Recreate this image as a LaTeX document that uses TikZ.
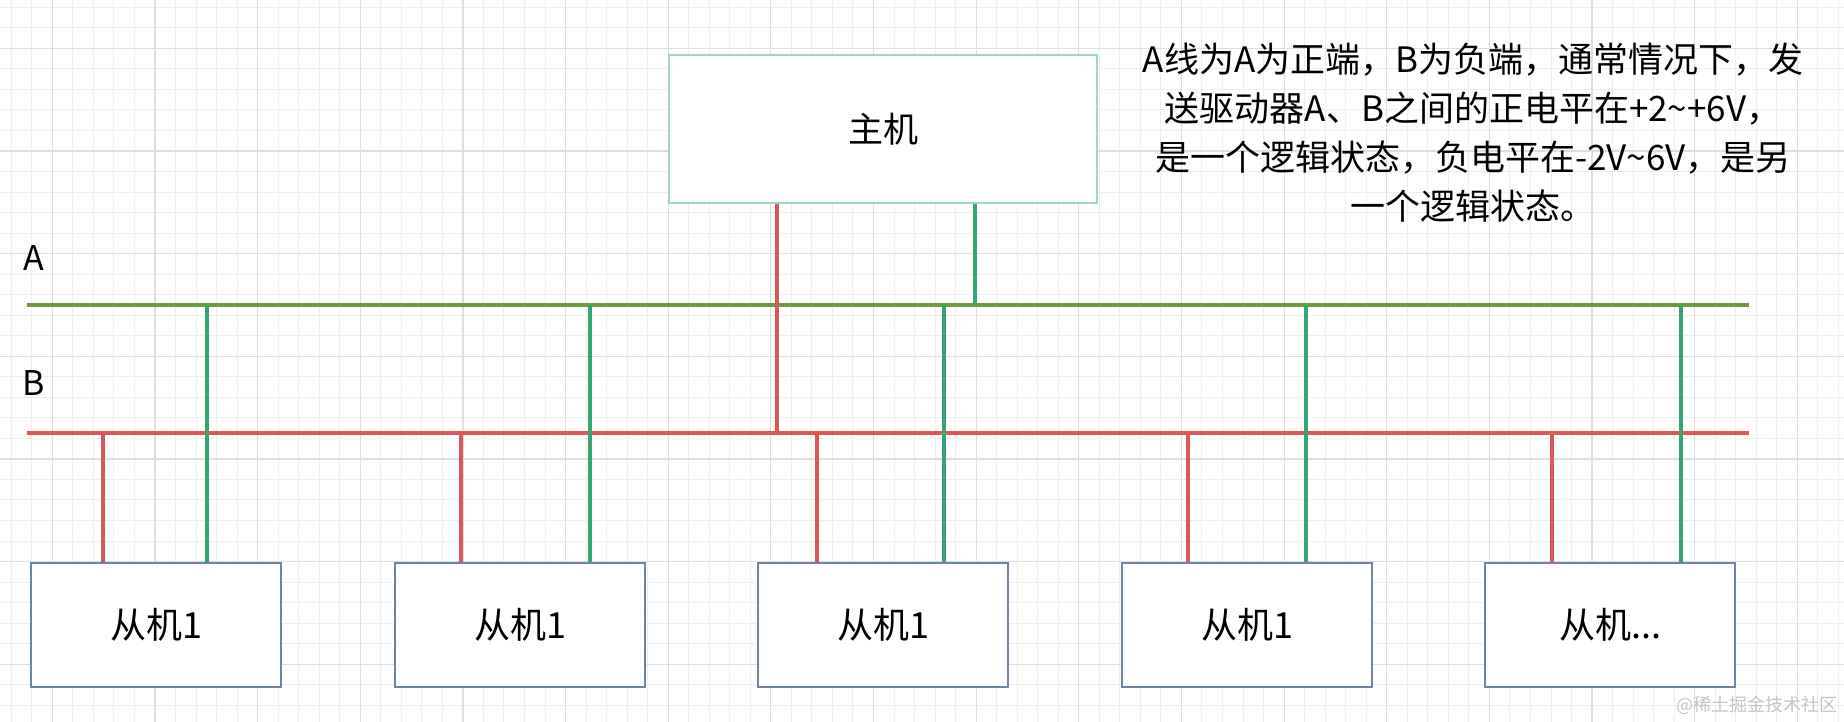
\documentclass[tikz,border=0pt]{standalone}
\usepackage{fontspec}
\setmainfont{Noto Sans CJK SC}
\definecolor{gridminor}{HTML}{EEEEEE}
\definecolor{gridmajor}{HTML}{DEDEDE}
\definecolor{buswireB}{HTML}{DD5757}
\definecolor{buswireA}{HTML}{6A9A42}
\definecolor{dropA}{HTML}{36A572}
\definecolor{hostborder}{HTML}{9ED8C8}
\definecolor{slaveborder}{HTML}{6E84A4}
\definecolor{wmark}{HTML}{C4C4C4}
\begin{document}
\begin{tikzpicture}[x=1pt,y=-1pt,
  minorline/.style={draw=gridminor, line width=1pt},
  majorline/.style={draw=gridmajor, line width=1.2pt},
  slavebox/.style={draw=slaveborder, line width=2pt, fill=white, minimum width=250pt, minimum height=124pt, inner sep=0pt, font=\fontsize{36}{40}\selectfont},
  hostbox/.style={draw=hostborder, line width=2pt, fill=white, minimum width=428pt, minimum height=148pt, inner sep=0pt, font=\fontsize{35}{40}\selectfont},
  wireB/.style={draw=buswireB, line width=3.3pt},
  wireA/.style={draw=buswireA, line width=3.3pt},
  wireAdrop/.style={draw=dropA, line width=3.3pt},
  buslabel/.style={font=\fontsize{34}{40}\selectfont, inner sep=0pt},
  note/.style={font=\fontsize{35}{49}\selectfont, align=center, inner sep=0pt},
  watermark/.style={font=\fontsize{18}{20}\selectfont, text=wmark, inner sep=0pt}]
\useasboundingbox (0,0) rectangle (1844,722);
\fill[white] (0,0) rectangle (1844,722);
% grid
\foreach \i in {0,...,90} {
  \draw[minorline] ({11.24+\i*20.53},0) -- ({11.24+\i*20.53},722);
}
\foreach \i in {0,...,36} {
  \draw[minorline] (0,{7.24+\i*20.53}) -- (1844,{7.24+\i*20.53});
}
\foreach \i in {0,...,18} {
  \draw[majorline] ({52.3+\i*102.65},0) -- ({52.3+\i*102.65},722);
}
\foreach \i in {0,...,7} {
  \draw[majorline] (0,{48.3+\i*102.65}) -- (1844,{48.3+\i*102.65});
}

% bus end points
\coordinate (AL) at (27,305);
\coordinate (AR) at (1749,305);
\coordinate (BL) at (27,433);
\coordinate (BR) at (1749,433);

% nodes
\node[hostbox] (host) at (883,129) {主机};
\node[slavebox] (s1) at (156,625) {从机1};
\node[slavebox] (s2) at (520,625) {从机1};
\node[slavebox] (s3) at (883,625) {从机1};
\node[slavebox] (s4) at (1247,625) {从机1};
\node[slavebox] (s5) at (1610,625) {从机...};

\node[buslabel] (labA) at (34,258) {A};
\node[buslabel] (labB) at (34,383) {B};

\node[note] (txt) at (1473,133) {A线为A为正端，B为负端，通常情况下，发\\送驱动器A、B之间的正电平在+2\textasciitilde+6V，\\是一个逻辑状态，负电平在-2V\textasciitilde6V，是另\\一个逻辑状态。};

\node[watermark] (wm) at (1757,705) {@稀土掘金技术社区};

% tap points
\coordinate (hB) at (777,433);
\coordinate (hA) at (975,305);
\coordinate (b1) at (103,433);
\coordinate (a1) at (207,305);
\coordinate (b2) at (461,433);
\coordinate (a2) at (590,305);
\coordinate (b3) at (817,433);
\coordinate (a3) at (944,305);
\coordinate (b4) at (1188,433);
\coordinate (a4) at (1306,305);
\coordinate (b5) at (1552,433);
\coordinate (a5) at (1681,305);

% buses
\draw[wireA] (AL) -- (AR);
\draw[wireB] (BL) -- (BR);

% host drops
\draw[wireB] (hB |- host.south) -- (hB);
\draw[wireAdrop] (hA |- host.south) -- (hA);

% slave drops
\foreach \k in {1,...,5} {
  \draw[wireB] (b\k |- s\k.north) -- (b\k);
  \draw[wireAdrop] (a\k |- s\k.north) -- (a\k);
}
\end{tikzpicture}
\end{document}
